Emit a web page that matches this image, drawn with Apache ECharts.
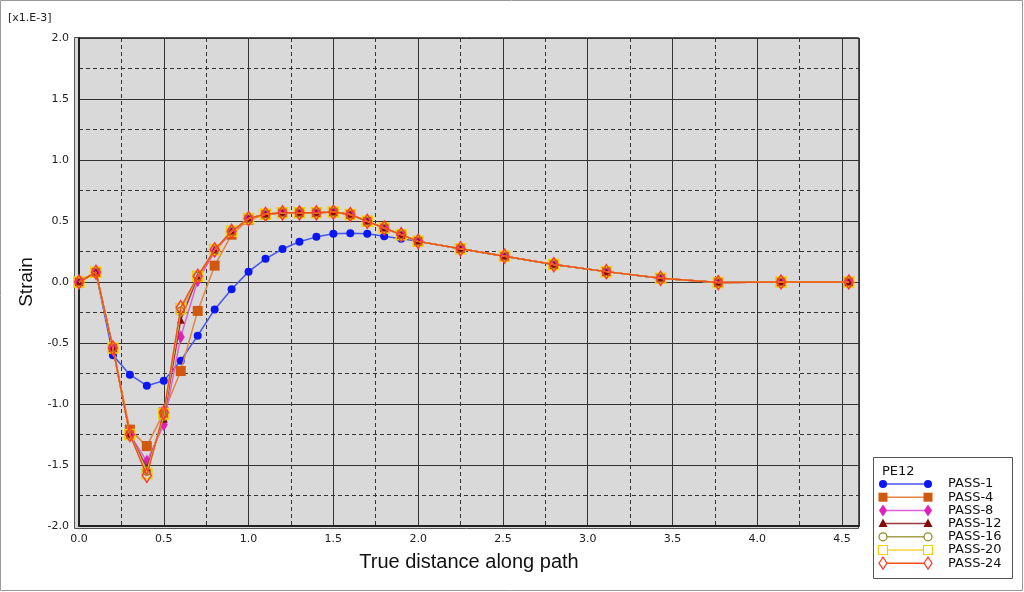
<!DOCTYPE html>
<html>
<head>
<meta charset="utf-8">
<script src="https://cdn.jsdelivr.net/npm/echarts@6/dist/echarts.min.js"></script>
<style>
html,body{margin:0;padding:0;background:#fff;}
#chart{width:1024px;height:592px;}
</style>
</head>
<body>
<div id="chart"></div>
<script>
// True distance along path (shared x positions)
const distance = [0.0, 0.1, 0.2, 0.3, 0.4, 0.5, 0.6, 0.7, 0.8, 0.9, 1.0, 1.1, 1.2, 1.3, 1.4, 1.5, 1.6, 1.7, 1.8, 1.9, 2.0, 2.25, 2.51, 2.80, 3.11, 3.43, 3.77, 4.14, 4.54];

// Strain values in units of 1e-3
const pass1  = [0, 0.08, -0.60, -0.76, -0.85, -0.81, -0.645, -0.44, -0.225, -0.06, 0.085, 0.19, 0.27, 0.33, 0.37, 0.395, 0.40, 0.395, 0.375, 0.355, 0.333, 0.272, 0.212, 0.143, 0.085, 0.03, -0.005, 0, 0];
const pass4  = [0, 0.08, -0.54, -1.21, -1.345, -1.07, -0.73, -0.237, 0.134, 0.388, 0.51, 0.55, 0.565, 0.567, 0.567, 0.573, 0.553, 0.497, 0.443, 0.388, 0.333, 0.272, 0.212, 0.143, 0.085, 0.03, -0.005, 0, 0];
const pass8  = [0, 0.08, -0.54, -1.25, -1.47, -1.17, -0.45, 0.01, 0.25, 0.41, 0.52, 0.555, 0.567, 0.567, 0.567, 0.573, 0.553, 0.497, 0.443, 0.388, 0.333, 0.272, 0.212, 0.143, 0.085, 0.03, -0.005, 0, 0];
const pass12 = [0, 0.08, -0.54, -1.25, -1.52, -1.12, -0.31, 0.04, 0.26, 0.415, 0.52, 0.555, 0.567, 0.567, 0.567, 0.573, 0.553, 0.497, 0.443, 0.388, 0.333, 0.272, 0.212, 0.143, 0.085, 0.03, -0.005, 0, 0];
const pass16 = [0, 0.08, -0.54, -1.25, -1.55, -1.10, -0.24, 0.047, 0.264, 0.415, 0.52, 0.555, 0.567, 0.567, 0.567, 0.573, 0.553, 0.497, 0.443, 0.388, 0.333, 0.272, 0.212, 0.143, 0.085, 0.03, -0.005, 0, 0];
const pass20 = [0, 0.08, -0.54, -1.25, -1.57, -1.08, -0.22, 0.047, 0.264, 0.415, 0.52, 0.555, 0.567, 0.567, 0.567, 0.573, 0.553, 0.497, 0.443, 0.388, 0.333, 0.272, 0.212, 0.143, 0.085, 0.03, -0.005, 0, 0];
const pass24 = [0, 0.08, -0.54, -1.25, -1.585, -1.07, -0.21, 0.047, 0.264, 0.415, 0.52, 0.555, 0.567, 0.567, 0.567, 0.573, 0.553, 0.497, 0.443, 0.388, 0.333, 0.272, 0.212, 0.143, 0.085, 0.03, -0.005, 0, 0];

const seriesNames = ['PASS-1', 'PASS-4', 'PASS-8', 'PASS-12', 'PASS-16', 'PASS-20', 'PASS-24'];
const seriesValues = [pass1, pass4, pass8, pass12, pass16, pass20, pass24];

const legendTitle = 'PE12';
const yUnitLabel = '[x1.E-3]';

// styles
const styles = [
  {marker: '#0b17f2', line: '#4455ee', symbol: 'circle', size: 8, filled: true},
  {marker: '#d0580f', line: '#e08443', symbol: 'rect', size: 10, filled: true},
  {marker: '#e01fbe', line: '#e060d2', symbol: 'diamond', size: [8, 13], filled: true},
  {marker: '#850a0a', line: '#9c3a3a', symbol: 'triangle', size: 8, filled: true},
  {marker: '#8c8c1c', line: '#a3a34c', symbol: 'circle', size: 8, filled: false},
  {marker: '#f2d000', line: '#f3d838', symbol: 'rect', size: 10, filled: false},
  {marker: '#ff3a2a', line: '#f0501c', symbol: 'diamond', size: [9, 14], filled: false}
];

const fontTick = 'DejaVu Sans, Verdana, sans-serif';
const fontTitle = 'Liberation Sans, Arial, sans-serif';

const series = seriesNames.map((name, i) => {
  const s = styles[i];
  return {
    name: name,
    type: 'line',
    xAxisIndex: 0,
    yAxisIndex: 0,
    data: distance.map((x, k) => [x, seriesValues[i][k]]),
    symbol: s.symbol,
    symbolSize: s.size,
    showAllSymbol: true,
    animation: false,
    lineStyle: {color: s.line, width: 1.5},
    itemStyle: s.filled
      ? {color: s.marker, borderWidth: 0}
      : {color: 'rgba(0,0,0,0)', borderColor: s.marker, borderWidth: 1.5},
    z: 2 + i
  };
});

// legend built as graphics
const legendX = 873, legendY = 457, legendW = 139, legendH = 121;
const legendEls = [
  {type: 'rect', shape: {x: legendX + 0.5, y: legendY + 0.5, width: legendW, height: legendH},
   style: {fill: '#fff', stroke: '#555', lineWidth: 1}, z: 10},
  {type: 'text', x: legendX + 9, y: legendY + 8,
   style: {text: legendTitle, font: '13px ' + fontTick, fill: '#111'}, z: 11}
];
function markerEl(s, cx, cy) {
  const fill = s.filled ? s.marker : '#fff';
  const stroke = s.marker;
  const lw = s.filled ? 0 : 1.2;
  if (s.symbol === 'circle') {
    return {type: 'circle', shape: {cx: cx, cy: cy, r: 4}, style: {fill: fill, stroke: stroke, lineWidth: lw}, z: 12};
  } else if (s.symbol === 'rect') {
    return {type: 'rect', shape: {x: cx - 4.5, y: cy - 4.5, width: 9, height: 9}, style: {fill: fill, stroke: stroke, lineWidth: lw}, z: 12};
  } else if (s.symbol === 'diamond') {
    return {type: 'polygon', shape: {points: [[cx, cy - 6], [cx + 4, cy], [cx, cy + 6], [cx - 4, cy]]}, style: {fill: fill, stroke: stroke, lineWidth: lw}, z: 12};
  } else {
    return {type: 'polygon', shape: {points: [[cx, cy - 5], [cx + 4.5, cy + 3.5], [cx - 4.5, cy + 3.5]]}, style: {fill: fill, stroke: stroke, lineWidth: lw}, z: 12};
  }
}
seriesNames.forEach((name, i) => {
  const s = styles[i];
  const cy = 484 + i * 13.2;
  const x1 = 883, x2 = 928;
  legendEls.push({type: 'line', shape: {x1: x1, y1: cy, x2: x2, y2: cy}, style: {stroke: s.line, lineWidth: 1.5}, z: 11});
  legendEls.push(markerEl(s, x1, cy));
  legendEls.push(markerEl(s, x2, cy));
  legendEls.push({type: 'text', x: 948, y: cy, style: {text: name, font: '13px ' + fontTick, fill: '#111', verticalAlign: 'middle'}, z: 12});
});

const option = {
  backgroundColor: '#ffffff',
  animation: false,
  grid: {left: 79, right: 165, top: 38, bottom: 66, show: false, containLabel: false},
  xAxis: [
    {
      type: 'value', min: 0, max: 4.6, interval: 0.5,
      name: 'True distance along path', nameLocation: 'middle', nameGap: 26,
      nameTextStyle: {fontFamily: fontTitle, fontSize: 20, color: '#111'},
      axisLine: {show: true, onZero: false, lineStyle: {color: '#222', width: 2}},
      axisTick: {show: false},
      axisLabel: {showMaxLabel: false, formatter: v => v.toFixed(1), fontFamily: fontTick, fontSize: 11, color: '#222', margin: 8},
      splitLine: {show: true, lineStyle: {color: '#333', width: 1, type: 'solid'}}
    },
    {
      type: 'value', min: 0, max: 4.6, interval: 0.25, position: 'top',
      axisLine: {show: false}, axisTick: {show: false}, axisLabel: {show: false},
      splitLine: {show: true, lineStyle: {color: '#333', width: 1, type: [4, 3]}}
    }
  ],
  yAxis: [
    {
      type: 'value', min: -2, max: 2, interval: 0.5,
      name: 'Strain', nameLocation: 'middle', nameGap: 40, nameRotate: 90,
      nameTextStyle: {fontFamily: fontTitle, fontSize: 19, color: '#111'},
      axisLine: {show: true, onZero: false, lineStyle: {color: '#222', width: 2}},
      axisTick: {show: false},
      axisLabel: {formatter: v => v.toFixed(1), fontFamily: fontTick, fontSize: 11, color: '#222', margin: 10},
      splitLine: {show: true, lineStyle: {color: '#333', width: 1, type: 'solid'}}
    },
    {
      type: 'value', min: -2, max: 2, interval: 0.25, position: 'right',
      axisLine: {show: false}, axisTick: {show: false}, axisLabel: {show: false},
      splitLine: {show: true, lineStyle: {color: '#333', width: 1, type: [4, 3]}}
    }
  ],
  graphic: {
    elements: [
      {type: 'rect', shape: {x: 0.5, y: 0.5, width: 1022, height: 590}, style: {fill: 'none', stroke: '#9a9a9a', lineWidth: 1}, z: -20, silent: true},
      {type: 'rect', shape: {x: 74.5, y: 37.5, width: 784, height: 491}, style: {fill: '#d9d9d9', stroke: '#555', lineWidth: 1}, z: -10, silent: true},
      {type: 'text', x: 8, y: 13, style: {text: yUnitLabel, font: '11px ' + fontTick, fill: '#222'}, z: 5},
      ...legendEls
    ]
  },
  series: series
};

const chart = echarts.init(document.getElementById('chart'), null, {renderer: 'canvas'});
chart.setOption(option);
</script>
</body>
</html>
